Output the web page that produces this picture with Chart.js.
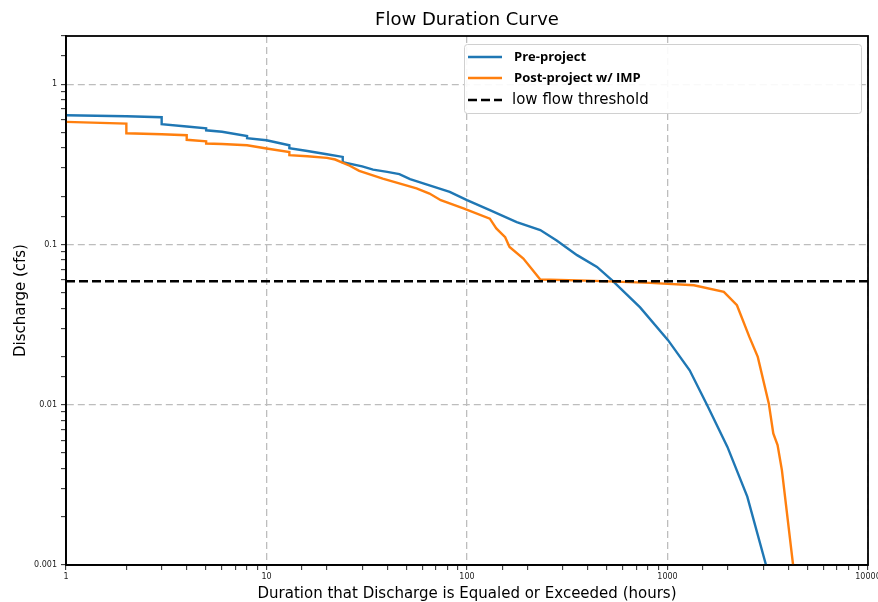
<!DOCTYPE html>
<html>
<head>
<meta charset="utf-8">
<script src="https://cdn.jsdelivr.net/npm/chart.js@4/dist/chart.umd.min.js"></script>
<style>
  html, body { margin: 0; padding: 0; background: #fff; }
  #wrap { width: 878px; height: 602px; }
</style>
</head>
<body>
<div id="wrap"><canvas id="c" width="878" height="602"></canvas></div>
<script>
// ---- Data ----
const seriesLabels = ["Pre-project", "Post-project w/ IMP", "low flow threshold"];

const preX = [1, 2, 3, 3, 4, 5, 5, 6, 8, 8, 10, 12, 13, 13, 16, 20, 24, 24, 30, 34, 40, 46, 52, 65, 82, 100, 130, 177, 232, 280, 354, 445, 528, 730, 1006, 1290, 1580, 1990, 2500, 3100];
const preY = [0.641, 0.632, 0.622, 0.563, 0.545, 0.530, 0.516, 0.505, 0.475, 0.460, 0.447, 0.425, 0.416, 0.399, 0.383, 0.366, 0.352, 0.326, 0.307, 0.293, 0.284, 0.275, 0.256, 0.234, 0.213, 0.189, 0.164, 0.138, 0.123, 0.106, 0.0858, 0.0725, 0.0599, 0.0405, 0.0253, 0.0164, 0.0099, 0.00546, 0.00267, 0.001];

const postX = [1, 2, 2, 3, 4, 4, 5, 5, 6, 8, 10, 13, 13, 16, 20, 22, 26, 29, 38, 56, 65, 74, 96, 130, 140, 155, 163, 191, 232, 400, 818, 1355, 1910, 2220, 2560, 2820, 3200, 3370, 3540, 3720, 4230];
const postY = [0.582, 0.568, 0.494, 0.487, 0.481, 0.450, 0.440, 0.427, 0.424, 0.416, 0.397, 0.378, 0.361, 0.355, 0.347, 0.339, 0.310, 0.288, 0.258, 0.224, 0.208, 0.189, 0.168, 0.145, 0.126, 0.111, 0.0966, 0.0818, 0.0605, 0.0595, 0.0576, 0.0557, 0.0506, 0.0418, 0.0265, 0.0199, 0.0102, 0.00662, 0.0056, 0.00391, 0.001];

const thresholdX = [1, 10000];
const thresholdY = [0.059, 0.059];

const xRange = [1, 10000];
const yRange = [0.001, 2];

// ---- helpers ----
const toPts = (xs, ys) => xs.map((x, i) => ({ x: x, y: ys[i] }));
const isDecade = v => Math.abs(Math.log10(v) - Math.round(Math.log10(v))) < 1e-9;
const decadeLabel = v => isDecade(v) ? String(Number(v.toPrecision(1))) : '';

const frame = {
  id: 'frame',
  afterDatasetsDraw(chart) {
    const a = chart.chartArea, ctx = chart.ctx;
    ctx.save();
    ctx.strokeStyle = '#000';
    ctx.lineWidth = 1.8;
    ctx.strokeRect(a.left, a.top, a.right - a.left, a.bottom - a.top);
    ctx.restore();
  }
};

const legendBox = {
  id: 'legendBox',
  afterDraw(chart) {
    const ctx = chart.ctx;
    const ds = chart.data.datasets;
    const bx = 464, by = 44, bw = 397, bh = 69;
    ctx.save();
    ctx.fillStyle = 'rgba(255,255,255,0.9)';
    ctx.strokeStyle = '#d0d0d0';
    ctx.lineWidth = 1;
    ctx.beginPath();
    ctx.roundRect(bx + 0.5, by + 0.5, bw, bh, 3);
    ctx.fill();
    ctx.stroke();
    const rows = [57, 78, 100];
    ds.forEach((d, i) => {
      const y = rows[i];
      ctx.strokeStyle = d.borderColor;
      ctx.lineWidth = d.borderWidth;
      ctx.setLineDash(d.borderDash || []);
      ctx.beginPath();
      ctx.moveTo(468, y);
      ctx.lineTo(502, y);
      ctx.stroke();
      ctx.setLineDash([]);
      ctx.fillStyle = '#000';
      ctx.textBaseline = 'middle';
      ctx.textAlign = 'left';
      if (i < 2) {
        ctx.font = 'bold 13px "Open Sans", sans-serif';
        ctx.fillText(d.label, 514, y);
      } else {
        ctx.font = '15px "DejaVu Sans", sans-serif';
        ctx.fillText(d.label, 512, y);
      }
    });
    ctx.restore();
  }
};

new Chart(document.getElementById('c'), {
  type: 'scatter',
  data: {
    datasets: [
      { label: seriesLabels[0], data: toPts(preX, preY), showLine: true, borderColor: '#1f77b4', backgroundColor: '#1f77b4', borderWidth: 2.4, pointRadius: 0, tension: 0, order: 2 },
      { label: seriesLabels[1], data: toPts(postX, postY), showLine: true, borderColor: '#ff7f0e', backgroundColor: '#ff7f0e', borderWidth: 2.4, pointRadius: 0, tension: 0, order: 1 },
      { label: seriesLabels[2], data: toPts(thresholdX, thresholdY), showLine: true, borderColor: '#000', backgroundColor: '#000', borderWidth: 2.6, borderDash: [9, 4], pointRadius: 0, tension: 0, order: 0 }
    ]
  },
  options: {
    responsive: false,
    devicePixelRatio: 1,
    animation: false,
    layout: { padding: { left: 0, right: 10, top: 0, bottom: 0 } },
    plugins: {
      legend: { display: false },
      tooltip: { enabled: false },
      title: {
        display: true,
        fullSize: false,
        text: 'Flow Duration Curve',
        color: '#000',
        font: { family: '"DejaVu Sans", sans-serif', size: 18, weight: 'normal', lineHeight: '20px' },
        padding: { top: 10, bottom: 6 }
      }
    },
    scales: {
      x: {
        type: 'logarithmic',
        min: xRange[0], max: xRange[1],
        afterFit(s) { s.height = 37; s.paddingLeft = 0; s.paddingRight = 0; },
        border: { display: true, color: '#000', width: 1.8, dash: [7, 4] },
        grid: {
          color: c => (c.tick && isDecade(c.tick.value)) ? '#bdbdbd' : 'rgba(0,0,0,0)',
          lineWidth: 1.3,
          drawTicks: true,
          tickLength: 5,
          tickColor: '#222',
          tickBorderDash: [],
          tickWidth: 1
        },
        ticks: {
          autoSkip: false, maxRotation: 0, padding: 2,
          color: '#222',
          font: { family: '"DejaVu Sans", sans-serif', size: 8 },
          callback: v => decadeLabel(v)
        },
        title: {
          display: true,
          text: 'Duration that Discharge is Equaled or Exceeded (hours)',
          color: '#000',
          font: { family: '"DejaVu Sans", sans-serif', size: 15, lineHeight: 1 },
          padding: { top: 0, bottom: 0 }
        }
      },
      y: {
        type: 'logarithmic',
        min: yRange[0], max: yRange[1],
        afterFit(s) { s.width = 66; s.paddingTop = 0; s.paddingBottom = 0; },
        border: { display: true, color: '#000', width: 1.8, dash: [7, 4] },
        grid: {
          color: c => (c.tick && isDecade(c.tick.value)) ? '#bdbdbd' : 'rgba(0,0,0,0)',
          lineWidth: 1.3,
          drawTicks: true,
          tickLength: 5,
          tickColor: '#222',
          tickBorderDash: [],
          tickWidth: 1
        },
        ticks: {
          autoSkip: false, padding: 4,
          color: '#222',
          font: { family: '"DejaVu Sans", sans-serif', size: 8 },
          callback: v => decadeLabel(v)
        },
        title: {
          display: true,
          text: 'Discharge (cfs)',
          color: '#000',
          font: { family: '"DejaVu Sans", sans-serif', size: 15, lineHeight: 1.2 },
          padding: { top: 12, bottom: 0 }
        }
      }
    }
  },
  plugins: [frame, legendBox]
});
</script>
</body>
</html>
